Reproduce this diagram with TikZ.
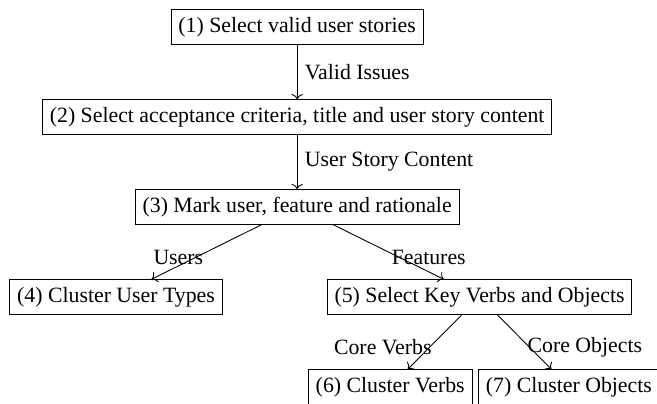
\documentclass[tikz,border=0pt]{standalone}
\usepackage{fontspec}
\setmainfont{Liberation Serif}
\usepackage{tikz}
\usetikzlibrary{arrows.meta}

\tikzset{
  stepbox/.style={draw, rectangle},
  flow/.style={->}
}

\begin{document}
\begin{tikzpicture}
    \useasboundingbox (-4.79,0.436) rectangle (5.80,-6.06);
    % Pipeline steps
    \node[stepbox] (select) at (0,0) {(1) Select valid user stories};
    \node[stepbox] (content) at (0,-1.45)
      {(2) Select acceptance criteria, title and user story content};
    \node[stepbox] (mark) at (0,-2.9) {(3) Mark user, feature and rationale};
    \node[stepbox] (usertypes) at (-2.92,-4.35) {(4) Cluster User Types};
    \node[stepbox] (keywords) at (2.94,-4.35) {(5) Select Key Verbs and Objects};
    \node[stepbox] (verbs) at (1.5,-5.8) {(6) Cluster Verbs};
    \node[stepbox] (objects) at (4.38,-5.8) {(7) Cluster Objects};
    % Connectors
    \draw[flow] (select) -- (content)
      node[midway,right] {Valid Issues};
    \draw[flow] (content) -- (mark)
      node[midway,right] {User Story Content};
    \draw[flow] (mark) -- (usertypes)
      node[midway,left,yshift=-2.5pt,xshift=2pt] {Users};
    \draw[flow] (mark) -- (keywords)
      node[midway,right,yshift=-2.5pt,xshift=-2pt] {Features};
    \draw[flow] (keywords) -- (verbs)
      node[midway,left,yshift=-2.5pt,xshift=2pt] {Core Verbs};
    \draw[flow] (keywords) -- (objects)
      node[midway,right,yshift=-2.5pt,xshift=-2pt] {Core Objects};
\end{tikzpicture}
\end{document}
